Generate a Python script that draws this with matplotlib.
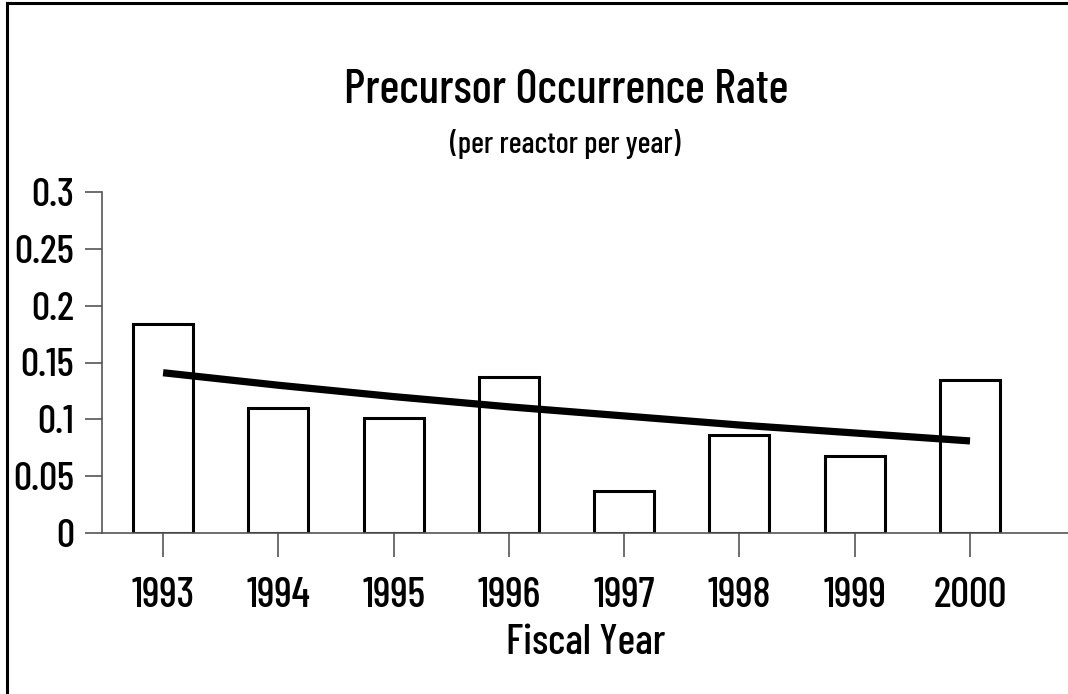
import numpy as np
import matplotlib
matplotlib.use("Agg")
import matplotlib.pyplot as plt
from matplotlib.lines import Line2D

plt.rcParams["font.family"] = ["Barlow Condensed", "Archivo Narrow", "DejaVu Sans"]
plt.rcParams["font.weight"] = 500

years = ["1993", "1994", "1995", "1996", "1997", "1998", "1999", "2000"]
rates = [0.184, 0.110, 0.101, 0.137, 0.037, 0.086, 0.068, 0.135]
trend = [0.141, 0.130, 0.120, 0.111, 0.103, 0.095, 0.088, 0.081]
yticks = [0, 0.05, 0.1, 0.15, 0.2, 0.25, 0.3]
ytick_labels = ["0", "0.05", "0.1", "0.15", "0.2", "0.25", "0.3"]

W, H = 1068, 694
fig = plt.figure(figsize=(W / 100, H / 100), dpi=100, facecolor="white")

# axes box in pixels: x 102..1068, y 192..533
ax = fig.add_axes([102 / W, (H - 533) / H, (W - 102) / W, (533 - 192) / H])
x = np.arange(len(years))
ax.bar(x, rates, width=0.52, facecolor="white", edgecolor="black", linewidth=2.2, zorder=2)
ax.plot(x, trend, color="black", linewidth=5.2, solid_capstyle="butt", zorder=3)

ax.set_xlim(-0.53, 7.85)
ax.set_ylim(0, 0.3)
ax.set_xticks(x)
ax.set_xticklabels(years, fontsize=30)
ax.set_yticks(yticks)
ax.set_yticklabels(ytick_labels, fontsize=29)
ax.tick_params(axis="x", length=17, width=1.2, color="#555555", pad=15)
ax.tick_params(axis="y", length=12, width=1.2, color="#555555", pad=8)

for s in ["top", "right"]:
    ax.spines[s].set_visible(False)
for s in ["left", "bottom"]:
    ax.spines[s].set_color("#555555")
    ax.spines[s].set_linewidth(1.2)
ax.patch.set_alpha(0)

fig.text(566 / W, 1 - 103 / H, "Precursor Occurrence Rate", fontsize=34,
         ha="center", va="baseline")
fig.text(565 / W, 1 - 153 / H, "(per reactor per year)", fontsize=22,
         ha="center", va="baseline")
fig.text(586 / W, 1 - 654 / H, "Fiscal Year", fontsize=30,
         ha="center", va="baseline")

# frame cut off at the right and bottom, only left and top edges show
fig.add_artist(Line2D([6.5 / W, 6.5 / W], [0, 1 - 2.5 / H], color="black", linewidth=2.2,
                      transform=fig.transFigure))
fig.add_artist(Line2D([6.5 / W, 1], [1 - 2.5 / H, 1 - 2.5 / H], color="black", linewidth=2.2,
                      transform=fig.transFigure))

fig.savefig("out.png", dpi=100, facecolor="white")
